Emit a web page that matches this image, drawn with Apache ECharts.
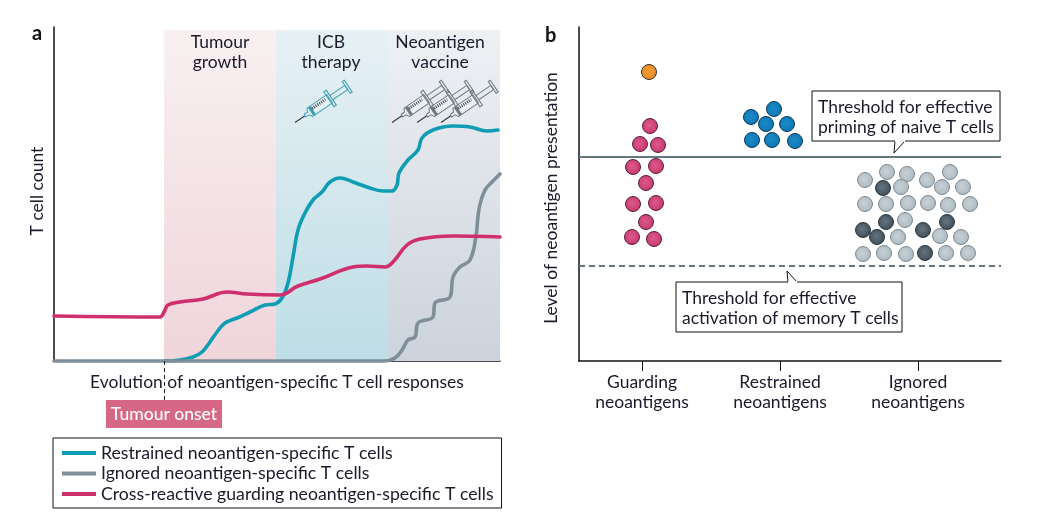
<!DOCTYPE html>
<html><head><meta charset="utf-8">
<style>html,body{margin:0;padding:0;background:#fff}#c{width:1051px;height:513px}</style>
<script src="https://cdn.jsdelivr.net/npm/echarts@6/dist/echarts.min.js"></script>
</head><body><div id="c"></div>
<script>
const seriesNames = ['Restrained neoantigen-specific T cells','Ignored neoantigen-specific T cells','Cross-reactive guarding neoantigen-specific T cells'];
const restrained = [[110,0],[126,1],[139,4],[148,9],[156,19],[163,29],[171,38],[183,43],[196,49],[211,56],[221,57],[228,63],[234,78],[239,104],[244,131],[251,148],[259,161],[268,169],[276,179],[286,183],[299,179],[313,174],[329,170],[338,170],[343,176],[345,188],[354,201],[364,211],[368,223],[379,231],[399,235],[416,234],[433,230],[444,231]];
const ignored = [[0,0],[329,0],[341,3],[348,11],[354,21],[361,24],[364,38],[379,44],[381,58],[396,64],[399,84],[406,94],[416,101],[422,125],[425,152],[431,171],[438,179],[446,187]];
const guarding = [[0,45],[106,44],[110,49],[114,56],[126,59],[149,62],[173,69],[193,67],[226,66],[244,75],[266,82],[299,94],[313,95],[331,94],[339,99],[353,116],[366,122],[399,125],[446,124]];
const phases = [['Tumour\ngrowth',110,222],['ICB\ntherapy',222,334],['Neoantigen\nvaccine',334,446]];
const categories = ['Guarding\nneoantigens','Restrained\nneoantigens','Ignored\nneoantigens'];
const categoryTicks = [63,201,339];
const orangePts = [[70,289]];
const pinkPts = [[71,235],[61,217],[79,216],[54,194],[77,195],[67,178],[54,157],[77,158],[67,139],[53,124],[75,122]];
const bluePts = [[195,252],[172,244],[187,237],[208,237],[173,221],[193,221],[216,220]];
const lightPts = [[286,181],[308,189],[328,187],[322,174],[348,181],[363,174],[371,189],[384,174],[286,157],[307,157],[329,158],[349,158],[369,156],[391,157],[326,141],[319,124],[361,125],[382,124],[284,107],[305,108],[327,107],[367,108],[389,108]];
const darkPts = [[304,173],[307,139],[284,131],[298,124],[344,131],[368,139],[346,108]];
const thresholds = [204,95];

const FONT = 'Lato';
const FS = 17.5;
const INK = '#1a1a2c';
const lin = (a,b)=>({type:'linear',x:0,y:0,x2:0,y2:1,colorStops:[{offset:0,color:a},{offset:1,color:b}]});
const rad = (a,b)=>({type:'radial',x:.45,y:.45,r:.55,colorStops:[{offset:0,color:a},{offset:1,color:b}]});
const phaseFills = [lin('#f8f0f1','#f0d5db'),lin('#e7f1f5','#bedde6'),lin('#eef1f4','#ccd3dc')];
const TEAL='#0f9db5', GREY='#7f8f99', CRIM='#cf2f6c', RULE='#66767f';

function line(i,data,color){return {name:seriesNames[i],type:'line',xAxisIndex:0,yAxisIndex:0,data,smooth:.4,symbol:'none',clip:false,
  lineStyle:{color,width:3.6,cap:'round'},itemStyle:{color},z:3};}
function dots(data,fill,border){return {type:'scatter',xAxisIndex:1,yAxisIndex:1,data,symbolSize:15,z:4,
  itemStyle:{color:fill,borderColor:border,borderWidth:1,opacity:1}};}

const s0=line(0,restrained,TEAL);
s0.markArea={silent:true,z:1,itemStyle:{borderWidth:0},label:{show:false},
  data:phases.map((p,i)=>[{xAxis:p[1],yAxis:0,itemStyle:{color:phaseFills[i]}},{xAxis:p[2],yAxis:331}])};
const s4=dots(orangePts,rad('#f59a3c','#e98a24'),'#3a3026');
const s8=dots(darkPts,rad('#66757f','#3f4e59'),'#2a3640');
s4.markLine={silent:true,symbol:'none',label:{show:false},animation:false,
  data:[{yAxis:thresholds[0],lineStyle:{color:RULE,width:2,type:'solid'}},
        {yAxis:thresholds[1],lineStyle:{color:RULE,width:2,type:[6,4]}}]};

function syringe(tipX,tipY,c){
  const parts=[
    {type:'line',shape:{x1:0,y1:0,x2:12,y2:0},style:{stroke:'#333',lineWidth:1}},
    {type:'polyline',shape:{points:[[12,-1.5],[16,-1.5],[18,-5],[42,-5],[42,5],[18,5],[16,1.5],[12,1.5],[12,-1.5]]},style:{stroke:c,lineWidth:1,fill:'rgba(255,255,255,0.25)'}},
    {type:'rect',shape:{x:19,y:-5,width:3,height:10},style:{fill:c}},
    {type:'line',shape:{x1:22,y1:-2,x2:38,y2:-2},style:{stroke:'#444',lineWidth:3,lineDash:[1,1.2]}},
    {type:'rect',shape:{x:41,y:-9,width:3,height:18},style:{stroke:c,lineWidth:1,fill:'none'}},
    {type:'polyline',shape:{points:[[44,-2.5],[62,-2.5],[62,2.5],[44,2.5]]},style:{stroke:c,lineWidth:1,fill:'none'}},
    {type:'rect',shape:{x:62,y:-7,width:2.5,height:14},style:{stroke:c,lineWidth:1,fill:'none'}}
  ];
  parts.forEach(p=>{p.z=6;p.silent=true;});
  return {type:'group',x:tipX,y:tipY,rotation:0.6,silent:true,children:parts};
}
const txt=(x,y,text,extra={})=>({type:'text',x,y,z:8,silent:true,style:Object.assign({text,fill:INK,font:FS+'px '+FONT,lineHeight:20,align:'left',verticalAlign:'middle'},extra)});
function callout(x,y,w,h,tail,lines){
  return [{type:'polygon',z:7,silent:true,shape:{points:[[x,y],[x+w,y],[x+w,y+h],[x,y+h]]},style:{fill:'#fff',stroke:'#111',lineWidth:1}},
    {type:'polyline',z:7,silent:true,shape:{points:tail},style:{fill:'#fff',stroke:'#111',lineWidth:1}},
    {type:'line',z:7,silent:true,shape:{x1:tail[0][0],y1:tail[0][1],x2:tail[2][0],y2:tail[2][1]},style:{stroke:'#fff',lineWidth:2}},
    txt(x+6,y+16,lines[0]),txt(x+6,y+36,lines[1])];
}
const graphics=[
  ...phases.map((p,i)=>({type:'text',z:8,silent:true,x:[220,331,440][i],y:52,style:{text:p[0],fill:INK,font:FS+'px '+FONT,lineHeight:20,align:'center',verticalAlign:'middle'}})),
  syringe(295,122.5,'#3d9db5'),syringe(392,122.5,'#6d7880'),syringe(417,122.5,'#6d7880'),syringe(441,122.5,'#6d7880'),
  txt(32,34,'a',{font:'bold 20px '+FONT,fill:'#111'}),
  txt(545,36,'b',{font:'bold 20px '+FONT,fill:'#111'}),
  {type:'line',z:8,silent:true,shape:{x1:164.5,y1:361,x2:164.5,y2:400},style:{stroke:'#222',lineWidth:1,lineDash:[4,3]}},
  {type:'rect',z:8,silent:true,shape:{x:106,y:400,width:116,height:28},style:{fill:'#d66885'}},
  txt(164,414,'Tumour onset',{fill:'#fff',font:'500 17.5px '+FONT,align:'center'}),
  ...callout(812,91,188,50,[[895,141],[894,153],[905,141]],['Threshold for effective','priming of naive T cells']),
  ...callout(676,282,226,50,[[788,282],[787,271],[797,282]],['Threshold for effective','activation of memory T cells'])
];
const axBase={axisLine:{show:true,onZero:false,lineStyle:{color:'#111',width:1.5}},splitLine:{show:false},axisTick:{show:false},axisLabel:{show:false},
  nameTextStyle:{fontFamily:FONT,fontSize:FS,color:INK}};
const chart=echarts.init(document.getElementById('c'),null,{renderer:'canvas'});
chart.setOption({
  animation:false,backgroundColor:'#fff',
  textStyle:{fontFamily:FONT},
  grid:[{left:54,top:27,width:446,height:334},{left:579,top:27,width:422,height:334}],
  xAxis:[
    Object.assign({},axBase,{type:'value',gridIndex:0,min:0,max:446,name:'Evolution of neoantigen-specific T cell responses',nameLocation:'middle',nameGap:12}),
    Object.assign({},axBase,{type:'value',gridIndex:1,min:0,max:422,
      axisTick:{show:true,length:10,inside:false,lineStyle:{color:'#111',width:1},customValues:categoryTicks},
      axisLabel:{show:true,margin:11,fontFamily:FONT,fontSize:FS,color:INK,lineHeight:20,customValues:categoryTicks,
        formatter:v=>categories[categoryTicks.indexOf(v)]||''}})
  ],
  yAxis:[
    Object.assign({},axBase,{type:'value',gridIndex:0,min:0,max:334,name:'T cell count',nameLocation:'middle',nameGap:8,
      nameTextStyle:{fontFamily:FONT,fontSize:FS,color:INK,padding:[0,0,0,6]}}),
    Object.assign({},axBase,{type:'value',gridIndex:1,min:0,max:334,name:'Level of neoantigen presentation',nameLocation:'middle',nameGap:19,
      nameTextStyle:{fontFamily:FONT,fontSize:FS,color:INK,padding:[0,8,0,0]}})
  ],
  legend:{show:true,left:53,top:438,height:59,orient:'vertical',data:seriesNames,icon:'rect',itemWidth:34,itemHeight:4,itemGap:2.5,
    padding:[6,8,5,9],borderColor:'#111',borderWidth:1,backgroundColor:'#fff',
    textStyle:{fontFamily:FONT,fontSize:17.7,color:INK,lineHeight:16},inactiveColor:'#ccc',selectedMode:false},
  series:[s0,line(1,ignored,GREY),line(2,guarding,CRIM),
    s4,dots(pinkPts,rad('#dc5a8c','#c8386e'),'#5a2038'),dots(bluePts,rad('#1c8ac6','#0b79b8'),'#0c3a55'),
    dots(lightPts,rad('#c8d1d7','#adb9c1'),'#7d8a92'),s8],
  graphic:graphics
});
</script></body></html>
